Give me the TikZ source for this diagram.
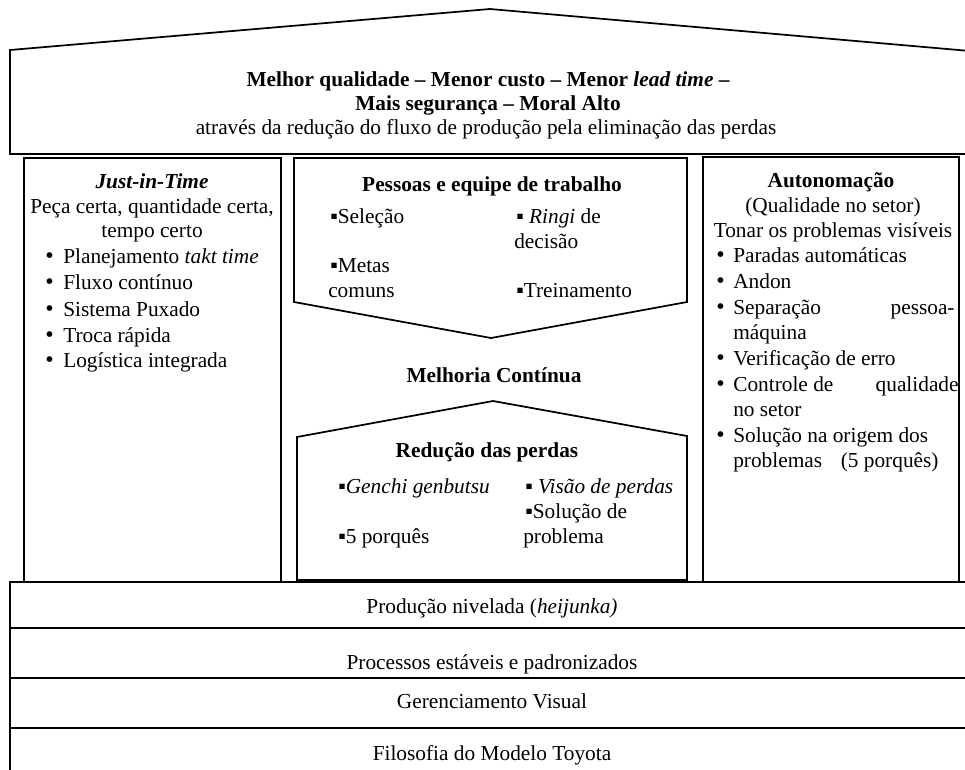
\documentclass[tikz,border=0pt]{standalone}
\usepackage{fontspec}
\setmainfont{Liberation Serif}
\begin{document}
\begin{tikzpicture}[x=0.75pt,y=-0.75pt, line join=miter,
  frame/.style={draw=black, line width=1.3pt},
  txt/.style={inner sep=0pt, anchor=base, font=\fontsize{16}{19}\selectfont},
  lft/.style={txt, anchor=base west},
  hd/.style={txt, font=\fontsize{16}{19}\selectfont\bfseries},
  dot/.style={inner sep=0pt, anchor=base west, font=\fontsize{18}{19}\selectfont}]
\useasboundingbox (0,0) rectangle (965,769);
\begin{scope}
\clip (0,0) rectangle (965,769);
% roof and goals
\draw[frame] (10,154) -- (10,50) -- (490,9) -- (970,51) -- (970,154) -- cycle;
% foundation layers
\draw[frame] (10,582) rectangle (970,628);
\draw[frame] (10,628) rectangle (970,678);
\draw[frame] (10,678) rectangle (970,728);
\draw[frame] (10,728) rectangle (970,790);
\end{scope}
% pillars
\draw[frame] (24,158) rectangle (281,582);
\draw[frame] (703,157) rectangle (959,582);
% people and teamwork (pointing down)
\draw[frame] (294,302) -- (294,158) -- (687,158) -- (687,302) -- (491,338) -- cycle;
% waste reduction (pointing up)
\draw[frame] (297,580) -- (297,437) -- (493,401) -- (687,436) -- (687,580) -- cycle;

% roof texts
\node[hd] (g1) at (488,86) {Melhor qualidade – Menor custo – Menor \textit{lead time} –};
\node[hd] (g2) at (488,110) {Mais segurança – Moral Alto};
\node[txt] (g3) at (486,134) {através da redução do fluxo de produção pela eliminação das perdas};

% Just-in-Time pillar
\node[hd] (j0) at (152,188) {\textit{Just-in-Time}};
\node[txt] (j1) at (152,213) {Peça certa, quantidade certa,};
\node[txt] (j2) at (152,237) {tempo certo};
\foreach \i/\yy/\t in {3/263/{Planejamento \textit{takt time}},4/289/{Fluxo contínuo},5/316/{Sistema Puxado},6/342/{Troca rápida},7/367/{Logística integrada}}{
  \node[dot] (jb\i) at (45,\yy) {•};
  \node[lft] (j\i) at (63,\yy) {\t};
}

% people and teamwork
\node[hd] (p0) at (492,191) {Pessoas e equipe de trabalho};
\node[lft] (p1) at (330,223) {▪Seleção};
\node[lft] (p2) at (516,223) {▪ \textit{Ringi} de};
\node[lft] (p3) at (514,248) {decisão};
\node[lft] (p4) at (330,272) {▪Metas};
\node[lft] (p5) at (328,297) {comuns};
\node[lft] (p6) at (516,297) {▪Treinamento};

\node[hd] (mc) at (494,382) {Melhoria Contínua};

% waste reduction
\node[hd] (r0) at (487,457) {Redução das perdas};
\node[lft] (r1) at (338,493) {▪\textit{Genchi genbutsu}};
\node[lft] (r2) at (525,493) {▪ \textit{Visão de perdas}};
\node[lft] (r3) at (525,518) {▪Solução de};
\node[lft] (r4) at (523,543) {problema};
\node[lft] (r5) at (338,543) {▪5 porquês};

% autonomation pillar
\node[hd] (a0) at (831,187) {Autonomação};
\node[txt] (a1) at (833,212) {(Qualidade no setor)};
\node[txt] (a2) at (833,237) {Tonar os problemas visíveis};
\node[dot] (ab1) at (716,262) {•};
\node[lft] (a3) at (733,262) {Paradas automáticas};
\node[dot] (ab2) at (716,288) {•};
\node[lft] (a4) at (733,288) {Andon};
\node[dot] (ab3) at (716,314) {•};
\node[lft] (a5) at (733,314) {\hbox to 166pt{Separação\hfill pessoa-}};
\node[lft] (a6) at (733,339) {máquina};
\node[dot] (ab4) at (716,365) {•};
\node[lft] (a7) at (733,365) {Verificação de erro};
\node[dot] (ab5) at (716,391) {•};
\node[lft] (a8) at (733,391) {\hbox to 169pt{Controle de\hfill qualidade}};
\node[lft] (a9) at (733,416) {no setor};
\node[dot] (ab6) at (716,442) {•};
\node[lft] (a10) at (733,442) {Solução na origem dos};
\node[lft] (a11) at (733,467) {problemas\hspace{10pt} (5 porquês)};

% foundation texts
\node[txt] (f1) at (492,613) {Produção nivelada (\textit{heijunka)}};
\node[txt] (f2) at (492,669) {Processos estáveis e padronizados};
\node[txt] (f3) at (492,708) {Gerenciamento Visual};
\node[txt] (f4) at (492,760) {Filosofia do Modelo Toyota};
\end{tikzpicture}
\end{document}
